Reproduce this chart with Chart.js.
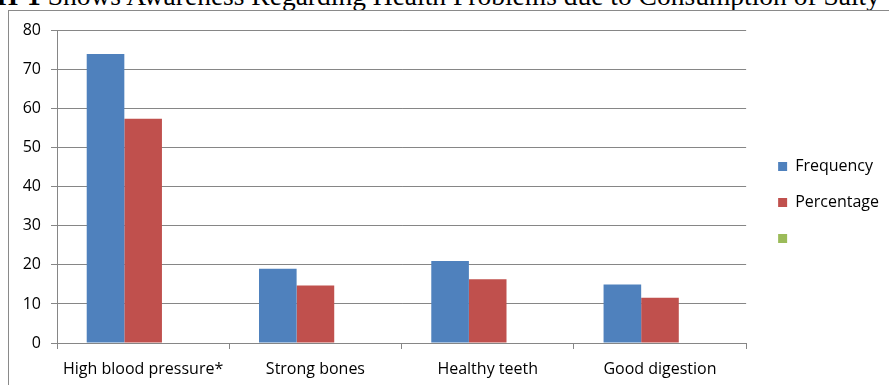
<!DOCTYPE html>
<html>
<head>
<meta charset="utf-8">
<script src="https://cdn.jsdelivr.net/npm/chart.js@4.4.1/dist/chart.umd.min.js"></script>
<style>
  html, body { margin: 0; padding: 0; background: #fff; overflow: hidden; }
  body { width: 889px; height: 385px; position: relative; }
  #caption {
    position: absolute; right: 9px; top: -18px; white-space: nowrap;
    font-family: "Liberation Serif", serif; font-size: 27.5px; line-height: 28px; color: #000;
  }
  #frame {
    position: absolute; left: 8px; top: 10px; width: 900px; height: 400px;
    border: 1px solid #8a8a8a; box-sizing: border-box;
  }
  #wrap { position: absolute; left: 9px; top: 11px; width: 880px; height: 374px; }
</style>
</head>
<body>
<div id="caption"><b>GRAPH-1</b> Shows Awareness Regarding Health Problems due to Consumption of Salty</div>
<div id="frame"></div>
<div id="wrap"><canvas id="myChart"></canvas></div>
<script>
const categories = ['High blood pressure*', 'Strong bones', 'Healthy teeth', 'Good digestion'];
const frequency = [74, 19, 21, 15];
const percentage = [57.4, 14.7, 16.3, 11.6];
const blankSeries = [null, null, null, null];
const yTicks = [0, 10, 20, 30, 40, 50, 60, 70, 80];

const ctx = document.getElementById('myChart').getContext('2d');
const axisFont = { family: 'Open Sans', size: 16 };

new Chart(ctx, {
  type: 'bar',
  data: {
    labels: categories,
    datasets: [
      { label: 'Frequency', data: frequency, backgroundColor: '#4F81BD' },
      { label: 'Percentage', data: percentage, backgroundColor: '#C0504D' },
      { label: '', data: blankSeries, backgroundColor: '#9BBB59' }
    ]
  },
  options: {
    responsive: true,
    maintainAspectRatio: false,
    animation: false,
    datasets: { bar: { barPercentage: 1, categoryPercentage: 0.655 } },
    layout: { padding: { top: 15, left: 0, right: 0, bottom: 6 } },
    plugins: {
      tooltip: { enabled: false },
      legend: {
        position: 'right',
        labels: {
          color: '#000',
          font: { family: 'Open Sans', size: 16 },
          boxWidth: 9,
          boxHeight: 9,
          padding: 20
        }
      }
    },
    scales: {
      x: {
        grid: { drawOnChartArea: false, color: '#868686', tickLength: 6, offset: true },
        border: { color: '#868686' },
        ticks: { color: '#000', font: axisFont, padding: 11 },
        afterFit: axis => { axis.height = 36; }
      },
      y: {
        min: 0,
        max: 80,
        afterBuildTicks: axis => { axis.ticks = yTicks.map(v => ({ value: v })); },
        grid: { color: '#868686', tickLength: 6 },
        border: { color: '#868686' },
        ticks: { color: '#000', font: axisFont, padding: 10 },
        afterFit: axis => { axis.width = 48; }
      },
      gap: {
        type: 'linear',
        position: 'right',
        grid: { display: false },
        border: { display: false },
        ticks: { display: false },
        afterFit: axis => { axis.width = 12; }
      }
    }
  }
});
</script>
</body>
</html>
